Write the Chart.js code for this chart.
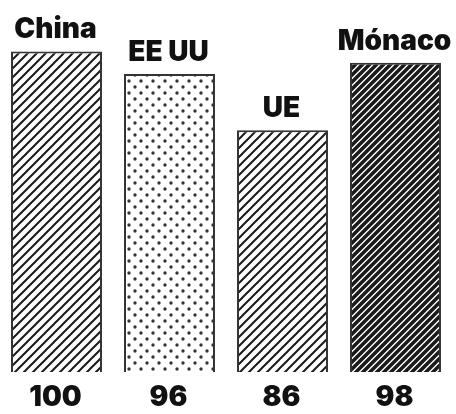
<!DOCTYPE html>
<html>
<head>
<meta charset="utf-8">
<script src="https://cdn.jsdelivr.net/npm/chart.js@4/dist/chart.umd.min.js"></script>
<style>
    html, body { margin: 0; padding: 0; background: #fff; }
    #wrap { width: 456px; height: 414px; }
</style>
</head>
<body>
<div id="wrap"><canvas id="barChart" width="456" height="414"></canvas></div>
<script>
const categories = ['China', 'EE UU', 'UE', 'Mónaco'];
const scores = [100, 96, 86, 98];
const patternKinds = ['lines', 'dots', 'lines', 'darkLines'];

const LABEL_FONT = '900 28px Inter, "DejaVu Sans", sans-serif';

function makeLinePattern(period, lineWidth) {
    const c = document.createElement('canvas');
    c.width = period;
    c.height = period;
    const g = c.getContext('2d');
    g.fillStyle = '#fff';
    g.fillRect(0, 0, period, period);
    g.strokeStyle = '#1a1a1a';
    g.lineWidth = lineWidth;
    g.beginPath();
    for (let k = -1; k <= 1; k++) {
        g.moveTo(k * period - 1, period + 1);
        g.lineTo(k * period + period + 1, -1);
    }
    g.stroke();
    return g.createPattern(c, 'repeat');
}

function makeDotPattern() {
    const c = document.createElement('canvas');
    c.width = 12;
    c.height = 12;
    const g = c.getContext('2d');
    g.fillStyle = '#fff';
    g.fillRect(0, 0, 12, 12);
    g.fillStyle = '#333';
    g.beginPath();
    g.arc(3, 3, 1.7, 0, Math.PI * 2);
    g.arc(9, 9, 1.7, 0, Math.PI * 2);
    g.fill();
    return g.createPattern(c, 'repeat');
}

const ctx = document.getElementById('barChart').getContext('2d');

const patterns = {
    lines: makeLinePattern(9, 2),
    dots: makeDotPattern(),
    darkLines: makeLinePattern(7, 3.6)
};

const barLabels = {
    id: 'barLabels',
    afterDatasetsDraw(chart) {
        const g = chart.ctx;
        const meta = chart.getDatasetMeta(0);
        g.save();
        g.fillStyle = '#111';
        g.font = LABEL_FONT;
        g.textAlign = 'center';
        g.textBaseline = 'alphabetic';
        meta.data.forEach((bar, i) => {
            g.fillText(categories[i], bar.x - 1, bar.y - 13);
            g.fillText(String(scores[i]), bar.x - 1, 406);
        });
        g.restore();
    }
};

new Chart(ctx, {
    type: 'bar',
    data: {
        labels: categories,
        datasets: [
            {
                data: scores,
                backgroundColor: patternKinds.map(k => patterns[k]),
                borderColor: '#333',
                borderWidth: 2,
                borderSkipped: false,
                barPercentage: 0.805,
                categoryPercentage: 1
            }
        ]
    },
    options: {
        responsive: false,
        animation: false,
        layout: {
            padding: { top: 43, bottom: 42, left: 0, right: 4 }
        },
        plugins: {
            legend: { display: false },
            tooltip: { enabled: false }
        },
        scales: {
            x: { display: false },
            y: { display: false, min: 43, max: 101.5 }
        }
    },
    plugins: [barLabels]
});
</script>
</body>
</html>
